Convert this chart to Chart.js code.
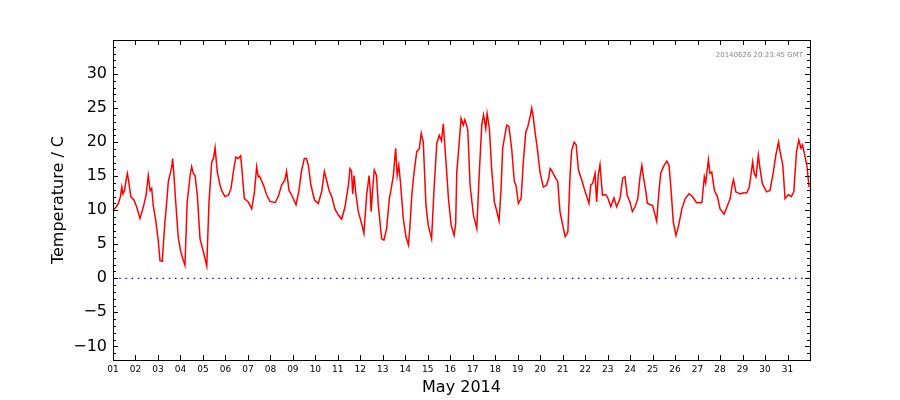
<!DOCTYPE html>
<html>
<head>
<meta charset="utf-8">
<title>Temperature May 2014</title>
<script src="https://cdn.jsdelivr.net/npm/chart.js@4.4.1/dist/chart.umd.min.js"></script>
<style>
  body { margin: 0; background: #fff; }
  canvas { display: block; }
</style>
</head>
<body>
<canvas id="tempChart" width="900" height="400"></canvas>
<script>
// days since 1 May 2014 00:00 GMT
var elapsedDays = [
  0.00, 0.12, 0.24, 0.33, 0.39, 0.44, 0.51, 0.60, 0.64, 0.70, 0.79, 0.93,
  1.05, 1.20, 1.35, 1.47, 1.57, 1.65, 1.72, 1.79, 1.91,
  2.02, 2.09, 2.19, 2.31, 2.39, 2.46, 2.56, 2.62, 2.65, 2.70, 2.80, 2.90,
  3.00, 3.10, 3.20, 3.30, 3.43, 3.50, 3.57, 3.65, 3.75, 3.87,
  4.02, 4.17, 4.27, 4.39, 4.47, 4.54, 4.64, 4.75, 4.83, 4.98,
  5.13, 5.25, 5.35, 5.46, 5.56, 5.68, 5.73, 5.84,
  6.02, 6.17, 6.29, 6.39, 6.46, 6.52, 6.69, 6.84, 6.98,
  7.21, 7.35, 7.50, 7.64, 7.72, 7.83, 7.95,
  8.14, 8.26, 8.39, 8.51, 8.60, 8.69, 8.80, 8.96,
  9.13, 9.28, 9.40, 9.50, 9.61, 9.73, 9.87,
  10.02, 10.17, 10.32, 10.47, 10.54, 10.61, 10.66, 10.72, 10.81, 10.91,
  11.06, 11.16, 11.28, 11.39, 11.44, 11.48, 11.55, 11.62, 11.72, 11.80, 11.95,
  12.05, 12.17, 12.29, 12.36, 12.47, 12.57, 12.64, 12.71, 12.79, 12.91,
  13.03, 13.14, 13.21, 13.29, 13.39, 13.51, 13.62, 13.71, 13.80, 13.92,
  14.02, 14.17, 14.28, 14.40, 14.51, 14.61, 14.69, 14.81, 14.92,
  15.04, 15.17, 15.24, 15.29, 15.39, 15.48, 15.58, 15.65, 15.78, 15.88,
  16.03, 16.18, 16.28, 16.40, 16.48, 16.58, 16.64, 16.74, 16.84, 16.96,
  17.06, 17.17, 17.26, 17.33, 17.43, 17.51, 17.61, 17.73, 17.85, 17.92,
  18.03, 18.15, 18.25, 18.36, 18.45, 18.55, 18.62, 18.69, 18.77, 18.89, 18.99,
  19.14, 19.29, 19.39, 19.44, 19.50, 19.62, 19.78, 19.88, 19.99,
  20.11, 20.23, 20.33, 20.40, 20.51, 20.60, 20.70, 20.85,
  21.00, 21.17, 21.25, 21.33, 21.44, 21.51, 21.58, 21.66, 21.77, 21.91,
  22.01, 22.14, 22.28, 22.40, 22.55, 22.67, 22.77, 22.87, 22.99,
  23.10, 23.22, 23.34, 23.44, 23.52, 23.60, 23.70, 23.77,
  24.00, 24.18, 24.28, 24.36, 24.48, 24.63, 24.73, 24.81, 24.92,
  25.04, 25.16, 25.30, 25.45, 25.62, 25.77, 25.96,
  26.19, 26.30, 26.36, 26.48, 26.55, 26.63, 26.75, 26.88,
  27.00, 27.18, 27.33, 27.45, 27.55, 27.60, 27.70, 27.89,
  28.08, 28.18, 28.30, 28.45, 28.52, 28.60, 28.70, 28.77, 28.88,
  29.07, 29.22, 29.37, 29.48, 29.60, 29.67, 29.79, 29.89,
  30.04, 30.17, 30.28, 30.40, 30.50, 30.60, 30.67, 30.86, 30.96
];

var temperatures = [
  10.0, 10.4, 11.0, 12.0, 13.4, 12.4, 12.9, 14.8, 15.4, 14.2, 12.0, 11.5,
  10.5, 8.8, 10.5, 12.2, 15.1, 12.9, 13.2, 10.7, 8.3,
  5.3, 2.6, 2.5, 8.3, 11.2, 14.2, 15.6, 16.5, 17.6, 15.6, 10.7, 6.1,
  4.1, 2.9, 1.9, 11.2, 15.1, 16.4, 15.4, 15.1, 12.2, 5.8,
  3.9, 1.8, 11.2, 17.1, 17.6, 19.2, 15.6, 13.8, 12.9, 12.0,
  12.2, 13.2, 15.6, 17.8, 17.6, 18.0, 16.1, 11.7,
  11.2, 10.2, 12.7, 16.4, 14.9, 15.0, 13.7, 12.2, 11.3,
  11.1, 12.0, 13.7, 14.4, 15.7, 12.9, 12.2,
  10.8, 12.7, 15.9, 17.6, 17.6, 16.6, 13.7, 11.5,
  11.0, 12.7, 15.7, 14.4, 12.9, 12.0, 10.2,
  9.3, 8.7, 10.5, 13.7, 16.1, 15.7, 12.4, 15.1, 12.2, 9.8,
  8.0, 6.6, 12.2, 15.1, 12.9, 9.8, 13.2, 15.9, 15.1, 10.7, 5.8,
  5.6, 7.3, 11.7, 12.9, 15.1, 19.1, 15.1, 16.6, 13.9, 8.8,
  6.1, 4.9, 7.8, 12.2, 15.6, 18.6, 19.0, 21.3, 20.0, 10.7,
  7.8, 5.8, 13.2, 19.8, 21.0, 20.2, 22.7, 17.1, 11.7,
  7.8, 6.3, 8.0, 15.6, 19.6, 23.5, 22.5, 23.3, 21.8, 13.7,
  9.3, 7.3, 14.7, 22.5, 24.0, 22.0, 24.2, 22.0, 16.1, 11.2,
  10.0, 8.4, 13.2, 19.1, 21.0, 22.5, 22.3, 19.1, 14.2, 13.7,
  11.0, 11.7, 17.1, 21.5, 22.3, 23.7, 25.0, 23.7, 21.5, 18.6, 15.6,
  13.4, 13.7, 14.9, 16.1, 15.9, 15.1, 14.2, 9.8, 8.0,
  6.1, 6.8, 15.3, 18.8, 20.0, 19.6, 15.9, 14.4,
  12.7, 11.0, 13.7, 13.9, 15.4, 11.2, 15.1, 16.7, 12.2, 12.3,
  11.8, 10.5, 11.8, 10.5, 11.7, 14.7, 14.9, 12.2, 11.2,
  9.8, 10.5, 11.7, 14.9, 16.6, 14.7, 12.7, 11.0,
  10.7, 8.4, 12.7, 15.4, 16.4, 17.2, 16.6, 13.4, 8.3,
  6.3, 7.8, 10.2, 11.7, 12.4, 12.0, 11.1,
  11.1, 14.9, 14.0, 17.4, 15.4, 15.6, 12.9, 12.0,
  10.2, 9.4, 10.7, 11.7, 13.9, 14.5, 12.7, 12.4,
  12.6, 12.5, 13.4, 17.1, 15.4, 14.9, 18.1, 16.3, 13.9,
  12.7, 12.9, 15.6, 18.1, 20.0, 18.6, 16.6, 11.7,
  12.3, 12.0, 12.7, 18.6, 20.3, 19.1, 19.6, 16.6, 13.4
];

var dayTicks = [0, 1, 2, 3, 4, 5, 6, 7, 8, 9, 10, 11, 12, 13, 14, 15,
                16, 17, 18, 19, 20, 21, 22, 23, 24, 25, 26, 27, 28, 29, 30];
var tempTicks = [-10, -5, 0, 5, 10, 15, 20, 25, 30];
var zeroLine = [0, 0];
var zeroLineDays = [0, 31];
var stampText = '20140626 20:23:45 GMT';

// matplotlib-like frame with inward ticks
var frameTicks = {
  id: 'frameTicks',
  afterDatasetsDraw: function (chart) {
    var ctx = chart.ctx;
    var a = chart.chartArea;
    var x = chart.scales.x;
    var y = chart.scales.y;
    ctx.save();
    ctx.strokeStyle = '#000';
    ctx.lineWidth = 1;
    ctx.beginPath();
    for (var v = Math.ceil(y.min); v <= y.max; v++) {
      var py = Math.round(y.getPixelForValue(v)) + 0.5;
      var len = (v % 5 === 0) ? 5 : 3;
      ctx.moveTo(a.left, py); ctx.lineTo(a.left + len, py);
      ctx.moveTo(a.right, py); ctx.lineTo(a.right - len, py);
    }
    dayTicks.forEach(function (d) {
      var px = Math.round(x.getPixelForValue(d)) + 0.5;
      ctx.moveTo(px, a.bottom); ctx.lineTo(px, a.bottom - 5);
      ctx.moveTo(px, a.top); ctx.lineTo(px, a.top + 5);
    });
    ctx.stroke();
    ctx.strokeRect(Math.round(a.left) + 0.5, Math.round(a.top) + 0.5,
                   Math.round(a.right - a.left), Math.round(a.bottom - a.top));
    ctx.font = '7px "DejaVu Sans"';
    ctx.fillStyle = '#888';
    ctx.textAlign = 'right';
    ctx.textBaseline = 'middle';
    ctx.fillText(stampText, a.right - 7, a.top + 15);
    ctx.restore();
  }
};

var tempData = elapsedDays.map(function (d, i) {
  return { x: d, y: temperatures[i] };
});
var zeroData = zeroLineDays.map(function (d, i) {
  return { x: d, y: zeroLine[i] };
});

Chart.defaults.font.family = '"DejaVu Sans", sans-serif';
Chart.defaults.color = '#000';

var tempChart = new Chart(document.getElementById('tempChart'), {
  type: 'line',
  data: {
    datasets: [{
      label: 'Temperature',
      data: tempData,
      borderColor: '#ff0000',
      borderWidth: 1.5,
      pointRadius: 0,
      tension: 0,
      fill: false
    }, {
      label: 'zero',
      data: zeroData,
      borderColor: '#0000ff',
      borderWidth: 1.3,
      borderDash: [1.5, 4.7],
      pointRadius: 0,
      fill: false
    }]
  },
  options: {
    responsive: false,
    animation: false,
    devicePixelRatio: 1,
    layout: { padding: { top: 40, right: 90, left: 0, bottom: 0 } },
    plugins: {
      legend: { display: false },
      tooltip: { enabled: false }
    },
    scales: {
      x: {
        type: 'linear',
        min: 0,
        max: 31,
        grid: { display: false, drawTicks: false },
        border: { display: false },
        afterBuildTicks: function (scale) {
          scale.ticks = dayTicks.map(function (d) { return { value: d }; });
        },
        afterFit: function (scale) { scale.height = 40; },
        ticks: {
          padding: 4,
          maxRotation: 0,
          autoSkip: false,
          font: { size: 9 },
          callback: function (v) { return String(v + 1).padStart(2, '0'); }
        },
        title: {
          display: true,
          text: 'May 2014',
          font: { size: 16 },
          padding: { top: 0, bottom: 3 }
        }
      },
      y: {
        min: -12,
        max: 35,
        grid: { display: false, drawTicks: false },
        border: { display: false },
        afterBuildTicks: function (scale) {
          scale.ticks = tempTicks.map(function (v) { return { value: v }; });
        },
        afterFit: function (scale) { scale.width = 113; },
        ticks: {
          padding: 6,
          font: { size: 16 },
          callback: function (v) { return v < 0 ? '\u2212' + Math.abs(v) : String(v); }
        },
        title: {
          display: true,
          text: 'Temperature / C',
          font: { size: 16 },
          padding: { top: 49, bottom: 0 }
        }
      }
    }
  },
  plugins: [frameTicks]
});
</script>
</body>
</html>
